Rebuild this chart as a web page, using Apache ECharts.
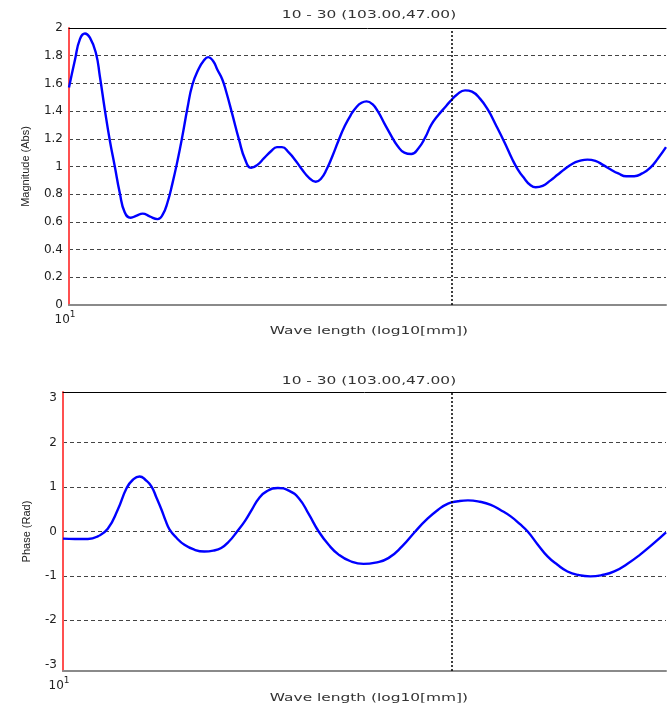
<!DOCTYPE html>
<html>
<head>
<meta charset="utf-8">
<script src="https://cdn.jsdelivr.net/npm/echarts@6/dist/echarts.min.js"></script>
<style>
html,body{margin:0;padding:0;background:#fff;}
#chart{width:669px;height:709px;}
</style>
</head>
<body>
<div id="chart"></div>
<script>
// ---- data (x = log10 of wave length in mm) ----
const chartTitle = '10 - 30 (103.00,47.00)';
const xName = 'Wave length (log10[mm])';
const magName = 'Magnitude (Abs)';
const phaseName = 'Phase (Rad)';
const markerLog = 1.4771;          // log10(30)
const magXMax = 1.7481;
const phaseXMax = 1.7436;

const magX = [1.0000, 1.0075, 1.0137, 1.0200, 1.0262, 1.0337, 1.0387, 1.0449, 1.0511, 1.0574,
  1.0636, 1.0698, 1.0773, 1.0848, 1.0923, 1.1010, 1.1110, 1.1172, 1.1234, 1.1297,
  1.1359, 1.1421, 1.1484, 1.1546, 1.1621, 1.1683, 1.1746, 1.1808, 1.1858, 1.1920,
  1.1970, 1.2045, 1.2132, 1.2207, 1.2282, 1.2357, 1.2444, 1.2531, 1.2606, 1.2668,
  1.2756, 1.2843, 1.2918, 1.3005, 1.3092, 1.3155, 1.3229, 1.3304, 1.3379, 1.3454,
  1.3529, 1.3603, 1.3666, 1.3728, 1.3803, 1.3878, 1.3953, 1.4040, 1.4115, 1.4202,
  1.4289, 1.4377, 1.4464, 1.4539, 1.4626, 1.4701, 1.4776, 1.4863, 1.4963, 1.5050,
  1.5150, 1.5249, 1.5349, 1.5461, 1.5549, 1.5623, 1.5711, 1.5773, 1.5848, 1.5935,
  1.6035, 1.6122, 1.6209, 1.6309, 1.6397, 1.6496, 1.6596, 1.6696, 1.6783, 1.6883,
  1.6983, 1.7082, 1.7182, 1.7282, 1.7382, 1.7481];
const magValue = [1.57, 1.77, 1.92, 1.96, 1.93, 1.82, 1.65, 1.41, 1.19, 1.00,
  0.81, 0.67, 0.63, 0.645, 0.66, 0.64, 0.62, 0.65, 0.74, 0.88,
  1.04, 1.22, 1.42, 1.59, 1.70, 1.76, 1.79, 1.76, 1.70, 1.63,
  1.54, 1.38, 1.19, 1.05, 0.99, 1.01, 1.06, 1.11, 1.14, 1.14,
  1.10, 1.04, 0.98, 0.92, 0.89, 0.91, 0.98, 1.08, 1.19, 1.29,
  1.37, 1.43, 1.46, 1.47, 1.45, 1.39, 1.31, 1.22, 1.15, 1.10,
  1.09, 1.13, 1.21, 1.30, 1.37, 1.42, 1.47, 1.52, 1.55, 1.54,
  1.49, 1.41, 1.30, 1.17, 1.06, 0.98, 0.91, 0.87, 0.85, 0.86,
  0.90, 0.94, 0.98, 1.02, 1.04, 1.05, 1.04, 1.01, 0.98, 0.95,
  0.93, 0.93, 0.95, 0.99, 1.06, 1.14];

const phaseX = [1.0000, 1.0147, 1.0307, 1.0429, 1.0552, 1.0675, 1.0785, 1.0859, 1.0945, 1.1018,
  1.1092, 1.1153, 1.1215, 1.1264, 1.1313, 1.1399, 1.1497, 1.1620, 1.1742, 1.1853,
  1.1951, 1.2049, 1.2147, 1.2245, 1.2331, 1.2417, 1.2515, 1.2650, 1.2785, 1.2908,
  1.3031, 1.3153, 1.3276, 1.3399, 1.3546, 1.3706, 1.3853, 1.4012, 1.4184, 1.4344,
  1.4479, 1.4626, 1.4748, 1.4871, 1.4994, 1.5141, 1.5276, 1.5399, 1.5521, 1.5632,
  1.5730, 1.5853, 1.5975, 1.6098, 1.6221, 1.6356, 1.6503, 1.6650, 1.6798, 1.6957,
  1.7117, 1.7276, 1.7436];
const phaseValue = [-0.16, -0.17, -0.17, -0.11, 0.06, 0.49, 0.98, 1.16, 1.24, 1.16,
  1.01, 0.76, 0.49, 0.25, 0.05, -0.14, -0.30, -0.41, -0.45, -0.43,
  -0.37, -0.22, 0.00, 0.24, 0.50, 0.75, 0.91, 0.98, 0.92, 0.75,
  0.39, 0.00, -0.30, -0.52, -0.67, -0.73, -0.70, -0.60, -0.33, 0.00,
  0.26, 0.49, 0.63, 0.68, 0.70, 0.67, 0.60, 0.48, 0.34, 0.17,
  0.00, -0.29, -0.56, -0.75, -0.90, -0.98, -1.01, -0.98, -0.90, -0.73,
  -0.52, -0.28, -0.02];

const phaseTicks = [-3, -2, -1, 0, 1, 2, 3];

// ---- chart ----
const FONT = 'Liberation Sans, Arial, sans-serif';
const WIDE = 'DejaVu Sans, sans-serif';
const TXT = '#222';
const chart = echarts.init(document.getElementById('chart'), null, {renderer: 'canvas'});

function zip(xs, ys) { return xs.map((x, i) => [x, ys[i]]); }

const xLabel = {
  color: TXT, margin: 5, padding: [0, 8, 0, 0],
  formatter: v => (Math.abs(v - 1) < 1e-6 ? '{b|10}{s|1}' : ''),
  rich: {
    b: {fontSize: 12, fontFamily: WIDE, color: TXT, verticalAlign: 'bottom', lineHeight: 16},
    s: {fontSize: 9, fontFamily: WIDE, color: TXT, verticalAlign: 'top', lineHeight: 10}
  }
};

function bottomX(grid, max) {
  return {
    type: 'value', gridIndex: grid, min: 1, max: max, interval: 1,
    axisLine: {show: true, onZero: false, lineStyle: {color: '#8a8a8a', width: 2}},
    axisTick: {show: false},
    splitLine: {show: false},
    axisLabel: xLabel
  };
}
function topX(grid) {
  return {
    type: 'value', gridIndex: grid, position: 'top', min: 0, max: 1,
    axisLine: {show: true, onZero: false, lineStyle: {color: '#000', width: 1}},
    axisTick: {show: false}, axisLabel: {show: false}, splitLine: {show: false}
  };
}
const gridLine = {show: true, showMinLine: false, showMaxLine: false, lineStyle: {color: '#444', type: [4, 3], width: 1}};
const markLine = {
  silent: true, symbol: 'none', label: {show: false},
  lineStyle: {color: '#000', type: [2, 2], width: 1.5},
  data: [{xAxis: markerLog}]
};
const lineStyle = {color: '#0000ff', width: 2.4};
const yLabel = {color: TXT, fontFamily: WIDE, fontSize: 12, margin: 6};

function wideText(text, x, y) {
  return {type: 'text', x: x, y: y, scaleX: 1.4, silent: true,
    style: {text: text, textAlign: 'center', textVerticalAlign: 'middle', fontSize: 11, fontFamily: WIDE, fill: '#333'}};
}

chart.setOption({
  animation: false,
  backgroundColor: '#fff',
  textStyle: {fontFamily: FONT},
  graphic: [
    wideText(chartTitle, 369, 15),
    wideText(chartTitle, 369, 381),
    wideText(xName, 369, 331),
    wideText(xName, 369, 698)
  ],
  grid: [
    {left: 69, top: 28, right: 0, height: 277},
    {left: 63, top: 392, right: 0, height: 279}
  ],
  xAxis: [bottomX(0, magXMax), topX(0), bottomX(1, phaseXMax), topX(1)],
  yAxis: [
    {
      type: 'value', gridIndex: 0, min: 0, max: 2, interval: 0.2,
      axisLine: {show: true, onZero: false, lineStyle: {color: '#ff5050', width: 2}},
      axisTick: {show: false},
      splitLine: gridLine,
      axisLabel: yLabel,
      name: magName, nameLocation: 'middle', nameGap: 38, nameRotate: 90,
      nameTextStyle: {color: TXT, fontFamily: FONT, fontSize: 11}
    },
    {
      type: 'value', gridIndex: 1, min: -Math.PI, max: Math.PI,
      axisLine: {show: true, onZero: false, lineStyle: {color: '#ff5050', width: 2}},
      axisTick: {show: false, customValues: phaseTicks},
      splitLine: gridLine,
      axisLabel: Object.assign({customValues: phaseTicks}, yLabel),
      name: phaseName, nameLocation: 'middle', nameGap: 31, nameRotate: 90,
      nameTextStyle: {color: TXT, fontFamily: FONT, fontSize: 11}
    }
  ],
  series: [
    {
      type: 'line', xAxisIndex: 0, yAxisIndex: 0, data: zip(magX, magValue),
      smooth: 0.5, showSymbol: false, lineStyle: lineStyle, markLine: markLine, clip: true
    },
    {
      type: 'line', xAxisIndex: 2, yAxisIndex: 1, data: zip(phaseX, phaseValue),
      smooth: 0.5, showSymbol: false, lineStyle: lineStyle, markLine: markLine, clip: true
    }
  ]
});
</script>
</body>
</html>
